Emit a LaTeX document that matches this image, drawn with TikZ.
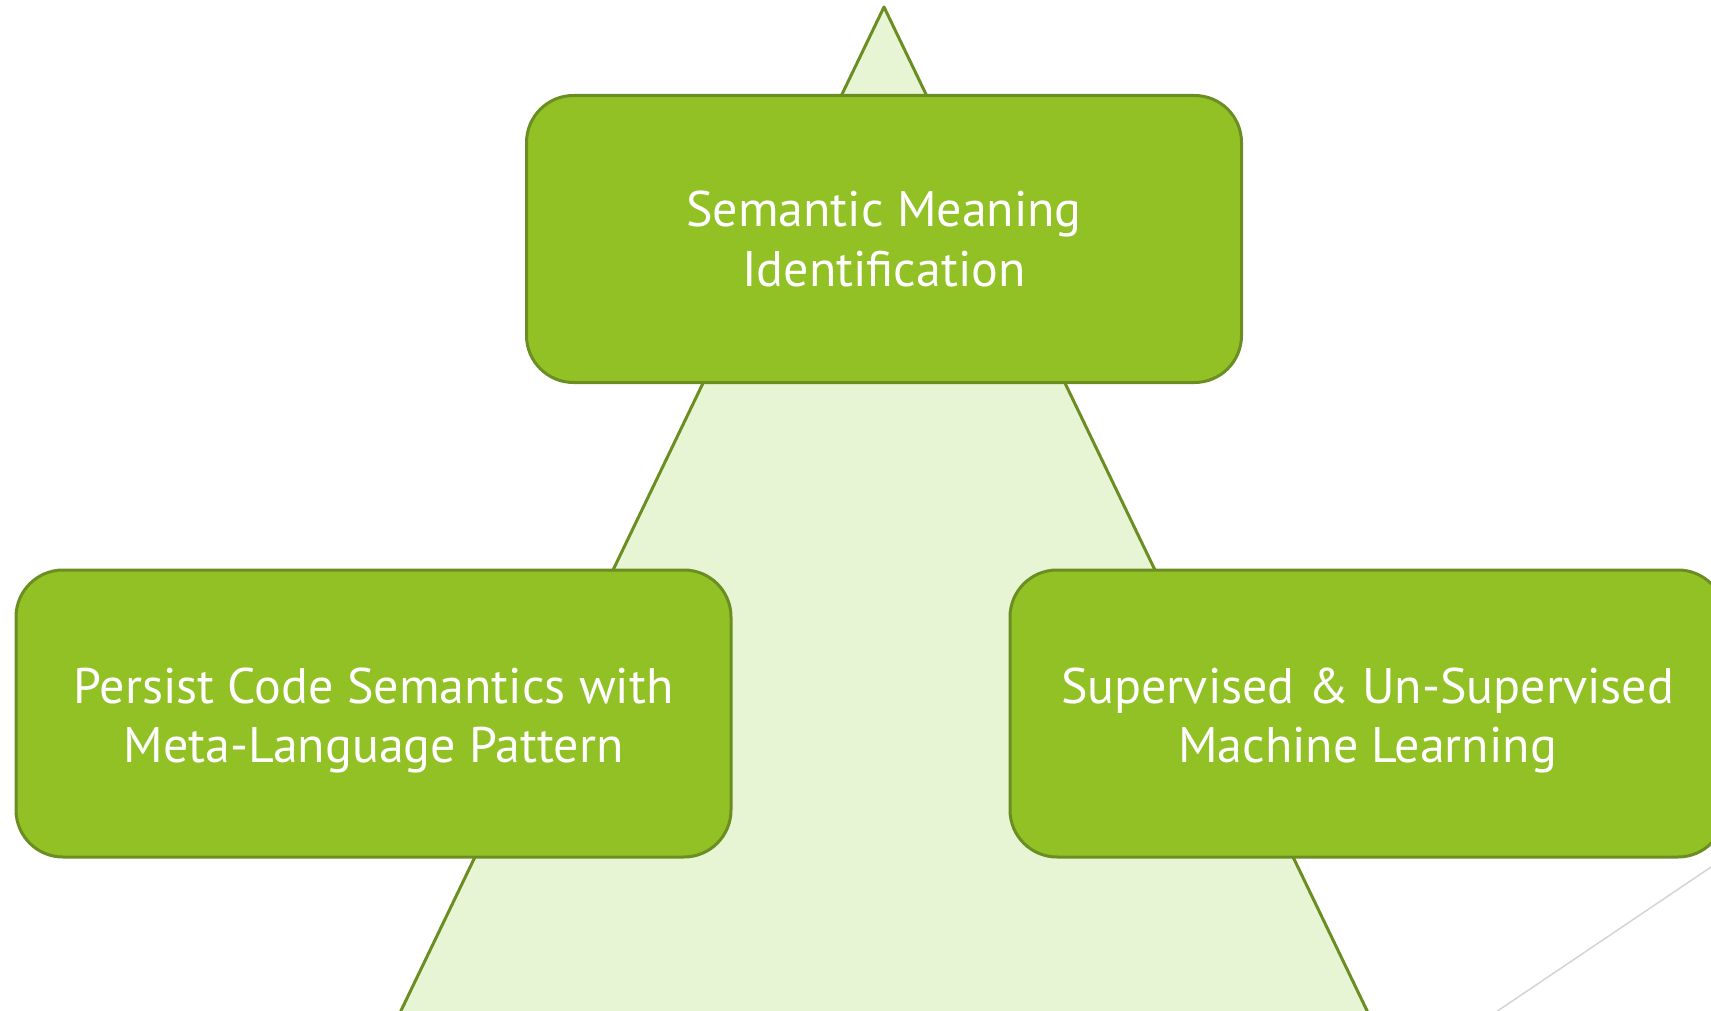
\documentclass[tikz,border=0pt]{standalone}
\usepackage{fontspec}
\setmainfont{PT Sans}
\usepackage{xcolor}
\usepackage{tikz}
\usetikzlibrary{shapes,positioning,calc}

\definecolor{leafgreen}{RGB}{146,193,38}
\definecolor{olive}{RGB}{107,142,35}
\definecolor{palegreen}{RGB}{232,245,212}
\definecolor{lightgrey}{RGB}{212,212,212}

\tikzset{
    stage/.style={draw=olive, line width=3pt, fill=leafgreen, rounded corners=47pt,
        minimum width=715pt, minimum height=287pt, inner sep=0pt,
        text=white, align=center, font=\fontsize{50}{59}\selectfont}
}

\begin{document}
\begin{tikzpicture}[x=1pt, y=-1pt]
    \clip (0,0) rectangle (1711,1011);

    % Pyramid behind the stages
    \draw[draw=olive, line width=3pt, fill=palegreen, line join=round]
        (358,1100) -- (884,7) -- (1410,1100);

    % Thin line at the lower right
    \draw[lightgrey, line width=1.5pt] (1760,834) -- (1450,1043);

    % Stages
    \node[stage] (meaning) at (884,239) {Semantic Meaning\\Identification};
    \node[stage] (persist) at (373.5,713.5) {\\[-10pt]Persist Code Semantics with\\Meta-Language Pattern};
    \node[stage] (learning) at (1367.5,713.5) {\\[-10pt]Supervised \& Un-Supervised\\Machine Learning};
\end{tikzpicture}
\end{document}
